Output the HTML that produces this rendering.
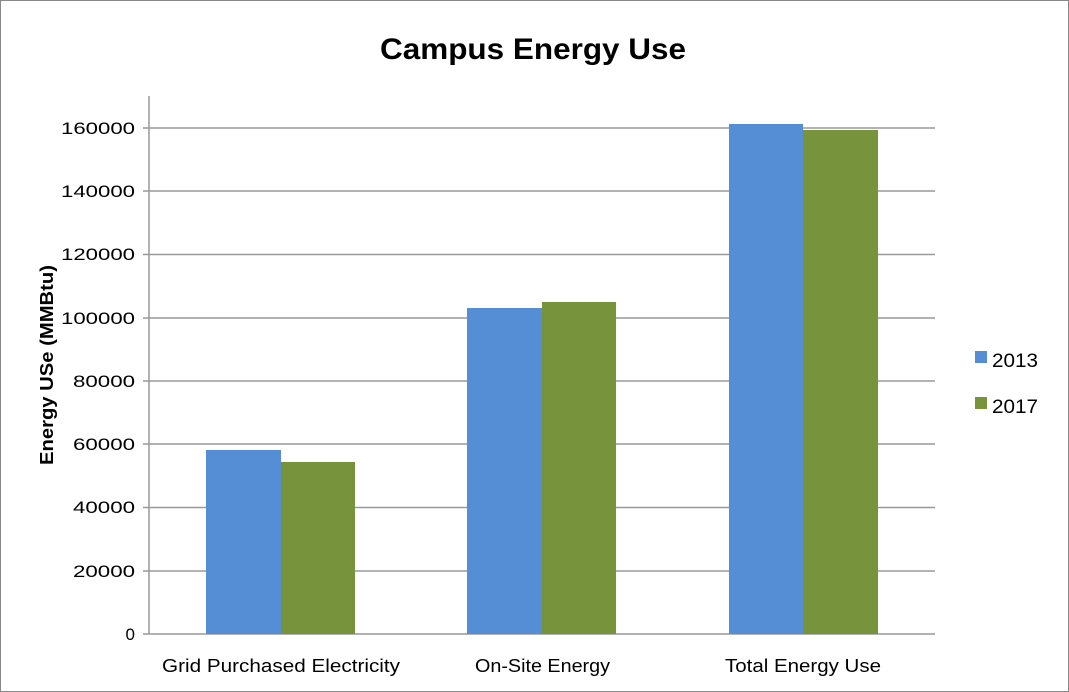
<!DOCTYPE html>
<html><head><style>
html,body{margin:0;padding:0;background:#fff;}
svg{display:block;}
text{font-family:"Liberation Sans",sans-serif;}
</style></head><body>
<svg width="1069" height="692" viewBox="0 0 1069 692">
<rect x="0.5" y="0.5" width="1068" height="691" fill="#fff" stroke="#888"/>
<text x="380" y="59" font-size="30" font-weight="bold" textLength="306" lengthAdjust="spacingAndGlyphs">Campus Energy Use</text>
<g stroke="#999" stroke-width="1.5">
<line x1="143" y1="128" x2="935" y2="128"/>
<line x1="143" y1="191" x2="935" y2="191"/>
<line x1="143" y1="254.5" x2="935" y2="254.5"/>
<line x1="143" y1="318" x2="935" y2="318"/>
<line x1="143" y1="381" x2="935" y2="381"/>
<line x1="143" y1="444" x2="935" y2="444"/>
<line x1="143" y1="507.5" x2="935" y2="507.5"/>
<line x1="143" y1="571" x2="935" y2="571"/>
<line x1="143" y1="634" x2="935" y2="634"/>
<line x1="149" y1="96" x2="149" y2="634"/>
</g>
<g fill="#558ED5">
<rect x="206" y="450" width="75" height="184"/>
<rect x="467" y="308" width="75" height="326"/>
<rect x="729" y="124" width="74" height="510"/>
</g>
<g fill="#77933C">
<rect x="281" y="462" width="74" height="172"/>
<rect x="542" y="302" width="74" height="332"/>
<rect x="803" y="130" width="75" height="504"/>
</g>
<g font-size="17" text-anchor="end">
<text x="135" y="134" textLength="74" lengthAdjust="spacingAndGlyphs">160000</text>
<text x="135" y="197" textLength="74" lengthAdjust="spacingAndGlyphs">140000</text>
<text x="135" y="260" textLength="74" lengthAdjust="spacingAndGlyphs">120000</text>
<text x="135" y="324" textLength="74" lengthAdjust="spacingAndGlyphs">100000</text>
<text x="135" y="387" textLength="62" lengthAdjust="spacingAndGlyphs">80000</text>
<text x="135" y="450" textLength="62" lengthAdjust="spacingAndGlyphs">60000</text>
<text x="135" y="513" textLength="62" lengthAdjust="spacingAndGlyphs">40000</text>
<text x="135" y="577" textLength="62" lengthAdjust="spacingAndGlyphs">20000</text>
<text x="135" y="640">0</text>
</g>
<g font-size="18">
<text x="162" y="672" textLength="238" lengthAdjust="spacingAndGlyphs">Grid Purchased Electricity</text>
<text x="475" y="672" textLength="135" lengthAdjust="spacingAndGlyphs">On-Site Energy</text>
<text x="725" y="672" textLength="156" lengthAdjust="spacingAndGlyphs">Total Energy Use</text>
</g>
<text transform="translate(53,365) rotate(-90)" text-anchor="middle" font-size="18" font-weight="bold" textLength="200" lengthAdjust="spacingAndGlyphs">Energy USe (MMBtu)</text>
<rect x="975" y="351" width="12" height="12" fill="#558ED5"/>
<rect x="975" y="397" width="12" height="12" fill="#77933C"/>
<text x="992" y="367" font-size="19" textLength="46" lengthAdjust="spacingAndGlyphs">2013</text>
<text x="992" y="413" font-size="19" textLength="46" lengthAdjust="spacingAndGlyphs">2017</text>
</svg>
</body></html>
